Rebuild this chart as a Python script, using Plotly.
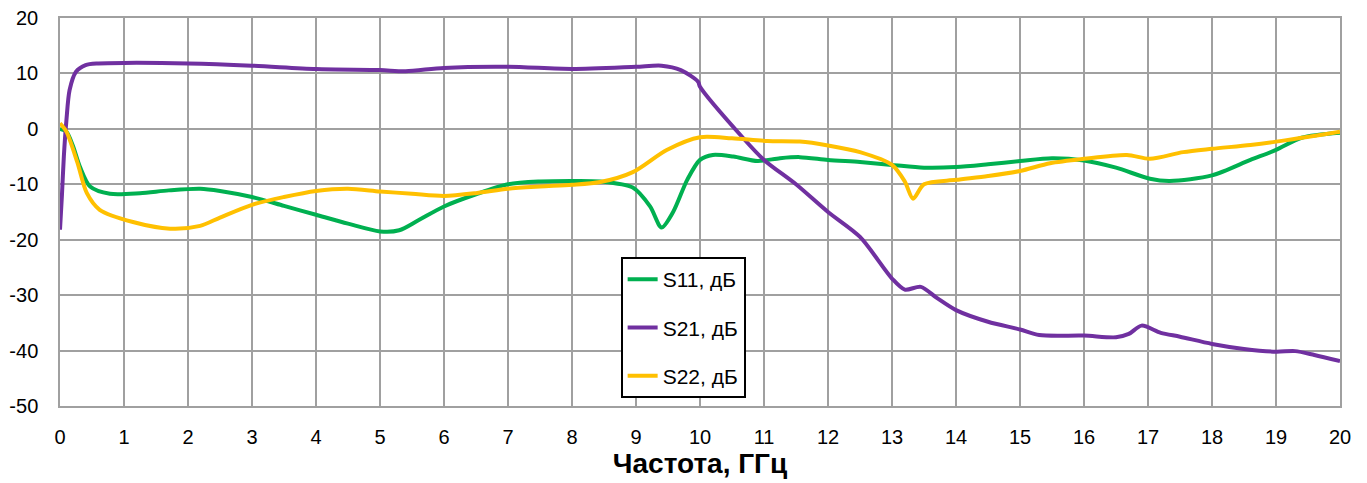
import plotly.graph_objects as go

# Frequency points (GHz) and values (dB)
f_s11 = [0, 0.1, 0.2, 0.31, 0.47, 0.78, 1.25, 1.7, 2.19, 2.5, 3, 3.5, 4, 4.5, 5, 5.3, 5.6, 6, 6.5, 7,
         7.5, 8, 8.44, 8.95, 9.22, 9.4, 9.58, 9.8, 10, 10.2, 10.52, 10.9, 11.25, 11.56, 12, 12.5, 13,
         13.5, 14, 14.5, 15, 15.5, 16, 16.5, 17.03, 17.34, 18, 18.6, 19, 19.4, 20]
s11 = [0, -0.5, -3, -6.8, -10.4, -11.7, -11.6, -11.1, -10.8, -11.2, -12.3, -13.9, -15.5, -17.1, -18.5,
       -18.3, -16.5, -14, -11.8, -10.0, -9.5, -9.4, -9.5, -10.6, -14, -17.8, -15, -9.2, -5.6, -4.7, -5,
       -5.8, -5.3, -5.1, -5.6, -6.0, -6.5, -7.0, -6.9, -6.4, -5.8, -5.3, -5.7, -7.0, -9.0, -9.4, -8.4,
       -5.6, -3.8, -1.6, -0.7]

f_s21 = [0, 0.03, 0.06, 0.1, 0.15, 0.25, 0.4, 0.6, 1, 2, 3, 4, 5, 5.4, 6, 7, 8, 9, 9.4, 9.7, 9.97, 10.0,
         10.67, 11, 11.5, 12, 12.5, 13, 13.2, 13.45, 13.7, 14, 14.5, 15, 15.3, 16, 16.5, 16.7, 16.9,
         17.2, 17.5, 18, 18.5, 19, 19.3, 19.6, 20]
s21 = [-18.2, -12, -5, 1.5, 7, 10.3, 11.5, 11.8, 11.9, 11.8, 11.4, 10.8, 10.6, 10.4, 11.0, 11.2, 10.8,
       11.2, 11.4, 10.6, 8.5, 7.6, -1.6, -5.6, -10, -15, -19.5, -27, -29, -28.5, -30.5, -32.7, -34.8,
       -36.2, -37.2, -37.3, -37.6, -37, -35.5, -36.8, -37.5, -38.8, -39.7, -40.2, -40.1, -40.8, -41.9]

f_s22 = [0, 0.1, 0.27, 0.42, 0.62, 1.14, 1.72, 2.19, 2.5, 3, 3.5, 4, 4.5, 5, 5.5, 6, 6.5, 7, 7.5, 8,
         8.44, 8.95, 9.48, 10, 10.5, 11.05, 11.56, 12, 12.5, 13, 13.2, 13.33, 13.5, 14, 14.5, 15,
         15.47, 16, 16.67, 17.03, 17.55, 18, 18.6, 19, 20]
s22 = [1, -0.5, -6, -11.6, -14.6, -16.8, -18, -17.5, -16, -13.7, -12.3, -11.2, -10.8, -11.3, -11.7,
       -12.1, -11.6, -10.8, -10.4, -10.1, -9.6, -7.8, -3.8, -1.5, -1.7, -2.2, -2.3, -3, -4.2, -6.5,
       -9.5, -12.6, -10, -9.2, -8.5, -7.6, -6.2, -5.4, -4.7, -5.4, -4.2, -3.6, -2.9, -2.3, -0.5]

names = ["S11, дБ", "S21, дБ", "S22, дБ"]
colors = ["#00B050", "#7030A0", "#FFC000"]
x_ticks = list(range(0, 21))
y_ticks = list(range(-50, 21, 10))

fig = go.Figure()
for i, (fx, fy) in enumerate([(f_s11, s11), (f_s21, s21), (f_s22, s22)]):
    fig.add_trace(go.Scatter(
        x=fx, y=fy, mode="lines", name=names[i], legendgroup=names[i],
        line=dict(color=colors[i], width=4, shape="spline", smoothing=0.8),
    ))

grid = "#A0A0A0"
fig.update_layout(
    width=1367, height=483,
    margin=dict(l=60, r=27, t=18, b=77, autoexpand=False),
    paper_bgcolor="white", plot_bgcolor="white",
    font=dict(family="Liberation Sans, Arial, sans-serif", color="black"),
    showlegend=True,
    legend=dict(
        x=0.438, y=0.384, xanchor="left", yanchor="top",
        bgcolor="white", bordercolor="black", borderwidth=2,
        font=dict(size=21), tracegroupgap=18,
    ),
    xaxis=dict(
        range=[0, 20], tickvals=x_ticks, ticktext=[str(v) for v in x_ticks],
        showgrid=True, gridcolor=grid, gridwidth=1.5, automargin=False,
        showline=True, linecolor=grid, linewidth=1.5, mirror=True,
        zeroline=False, ticks="", tickfont=dict(size=20), ticklabelstandoff=12,
        title=dict(text="<b>Частота, ГГц</b>",
                   font=dict(family="Liberation Sans Narrow, Arial Narrow, sans-serif", size=28),
                   standoff=6),
    ),
    yaxis=dict(
        range=[-50, 20], tickvals=y_ticks, ticktext=[str(v) for v in y_ticks],
        showgrid=True, gridcolor=grid, gridwidth=1.5, automargin=False,
        showline=True, linecolor=grid, linewidth=1.5, mirror=True,
        zeroline=False, ticks="", tickfont=dict(size=20), ticklabelstandoff=16,
    ),
)

fig.add_annotation(
    text="<b>S-параметры, дБ</b>", xref="paper", yref="paper",
    x=-0.002, y=1.041, xanchor="left", yanchor="bottom", showarrow=False,
    font=dict(family="Liberation Sans Narrow, Arial Narrow, sans-serif", size=24),
)

fig.write_html("out.html", config={"displayModeBar": False},
               post_script="document.body.style.margin='0';")
